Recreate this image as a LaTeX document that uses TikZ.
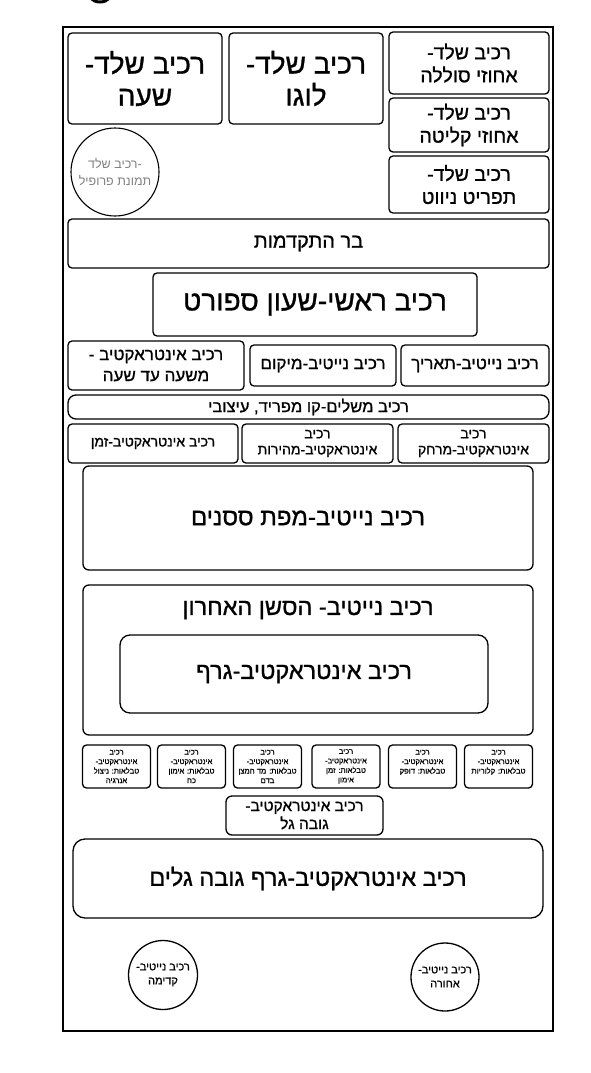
\documentclass[tikz,border=0pt]{standalone}
\usepackage{fontspec}
\newfontfamily\hebfont[Script=Hebrew, FakeBold=1]{Liberation Sans}
\newfontfamily\hebthin[Script=Hebrew]{Liberation Sans}
\TeXXeTstate=1
\usetikzlibrary{positioning}

\newcommand{\heb}[1]{\beginR #1\endR}
\newcommand{\fsz}[2]{\hebfont\fontsize{#1}{#2}\selectfont}

\begin{document}
\begin{tikzpicture}[x=1pt, y=-1pt,
    box/.style={draw, line width=1.3pt, rounded corners=4pt, align=center, inner sep=0pt},
    roundbox/.style={draw, line width=1.3pt, circle, align=center, inner sep=0pt}]
  \useasboundingbox (0,0) rectangle (591,1073);
  % cut-off mark at the top
  \draw[line width=3pt] (100,-12) circle (14);
  % screen frame
  \draw[line width=2.4pt] (63,27) rectangle (553,1031);

  % skeleton
  \node[box, minimum width=154pt, minimum height=91pt, font=\fsz{28}{32}] (hour) at (145,78.5) {\heb{רכיב שלד-}\\\heb{שעה}};
  \node[box, minimum width=154pt, minimum height=91pt, font=\fsz{28}{32}] (logo) at (306,78.5) {\heb{רכיב שלד-}\\\heb{לוגו}};
  \node[box, minimum width=160pt, minimum height=62pt, font=\fsz{19.5}{23}] (battery) at (469,63) {\heb{רכיב שלד-}\\\heb{אחוזי סוללה}};
  \node[box, minimum width=160pt, minimum height=54pt, font=\fsz{19.5}{23}] (signal) at (469,125) {\heb{רכיב שלד-}\\\heb{אחוזי קליטה}};
  \node[box, minimum width=160pt, minimum height=57pt, font=\fsz{19.5}{23}] (menu) at (469,184.5) {\heb{רכיב שלד-}\\\heb{תפריט ניווט}};
  \node[roundbox, line width=1.1pt, minimum size=88pt, text=gray, font={\hebthin\fontsize{12.5}{17}\selectfont}] (profile) at (115,172) {\heb{-רכיב שלד}\\\heb{תמונת פרופיל}};

  \node[box, minimum width=481pt, minimum height=49pt, font=\fsz{20}{24}] (progress) at (308.5,243.5) {\heb{בר התקדמות}};
  \node[box, minimum width=324pt, minimum height=63pt, font=\fsz{28}{32}] (sportclock) at (315,304.5) {\heb{רכיב ראשי-שעון ספורט}};

  \node[box, minimum width=176pt, minimum height=49pt, font=\fsz{17}{21}] (hourtohour) at (156,365.5) {\heb{רכיב אינטראקטיב -}\\\heb{משעה עד שעה}};
  \node[box, minimum width=146pt, minimum height=41pt, font=\fsz{17}{21}] (location) at (323,365.5) {\heb{רכיב נייטיב-מיקום}};
  \node[box, minimum width=148pt, minimum height=41pt, font=\fsz{17}{21}] (date) at (475,365.5) {\heb{רכיב נייטיב-תאריך}};

  \node[box, rounded corners=8pt, minimum width=481pt, minimum height=24pt, font=\fsz{16.5}{20}] (divider) at (308.5,407) {\heb{רכיב משלים-קו מפריד, עיצובי}};

  \node[box, minimum width=170pt, minimum height=39pt, font=\fsz{14}{16}] (time) at (153,443.5) {\heb{רכיב אינטראקטיב-זמן}};
  \node[box, minimum width=151pt, minimum height=39pt, font=\fsz{14}{16}] (speed) at (317.5,443.5) {\heb{רכיב}\\\heb{אינטראקטיב-מהירות}};
  \node[box, minimum width=151pt, minimum height=39pt, font=\fsz{14}{16}] (distance) at (473.5,443.5) {\heb{רכיב}\\\heb{אינטראקטיב-מרחק}};

  \node[box, rounded corners=6pt, minimum width=450pt, minimum height=104pt, font=\fsz{24}{28}] (sessionmap) at (308,518) {\heb{רכיב נייטיב-מפת ססנים}};

  \node[box, rounded corners=6pt, minimum width=450pt, minimum height=150pt] (lastsession) at (308,660) {};
  \node[font=\fsz{23.5}{28}] (lasttitle) at (308,610) {\heb{רכיב נייטיב- הסשן האחרון}};
  \node[box, rounded corners=10pt, minimum width=368pt, minimum height=78pt, font=\fsz{23.5}{28}] (graph) at (304,674) {\heb{רכיב אינטראקטיב-גרף}};

  % tables row
  \foreach \n/\cx/\third/\fourth in {1/116.5/טבלאות: ניצול/אנרגיה,
      2/191.5/טבלאות: אימון/כח,
      3/267.5/טבלאות: מד חמצן/בדם,
      4/346/טבלאות: זמן/אימון,
      5/422.5/טבלאות: דופק/,
      6/498.5/טבלאות: קלוריות/}
    \node[box, minimum width=68pt, minimum height=43pt, font=\fsz{7.6}{9.5}] (table\n) at (\cx,766.5)
      {\heb{רכיב}\\\heb{אינטראקטיב-}\\\heb{\third}\\\heb{\fourth}};

  \node[box, rounded corners=6pt, minimum width=157pt, minimum height=39pt, font=\fsz{15.5}{18}] (waveheight) at (304.5,815.5) {\heb{רכיב אינטראקטיב-}\\\heb{גובה גל}};
  \node[box, rounded corners=12pt, minimum width=470pt, minimum height=79pt, font=\fsz{23.5}{28}] (wavegraph) at (308,878.5) {\heb{רכיב אינטראקטיב-גרף גובה גלים}};

  \node[roundbox, minimum size=69pt, font=\fsz{11}{14}] (forward) at (163,975) {\heb{רכיב נייטיב-}\\\heb{קדימה}};
  \node[roundbox, minimum size=68pt, font=\fsz{11}{14}] (backward) at (445,977) {\heb{רכיב נייטיב-}\\\heb{אחורה}};
\end{tikzpicture}
\end{document}
